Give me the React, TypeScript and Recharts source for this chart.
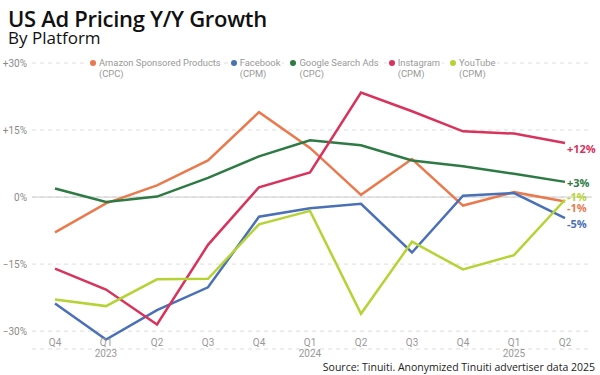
import React from 'react';
import { LineChart, Line, XAxis, YAxis, CartesianGrid, ReferenceLine } from 'recharts';

const quarters = ['Q4', 'Q1', 'Q2', 'Q3', 'Q4', 'Q1', 'Q2', 'Q3', 'Q4', 'Q1', 'Q2'];
const years = ['', '2023', '', '', '', '2024', '', '', '', '2025', ''];

const amazon = [-7.9, -1.4, 2.6, 8.2, 19.0, 11.0, 0.5, 8.5, -1.9, 1.1, -1.0];
const facebook = [-23.8, -31.9, -25.3, -20.2, -4.4, -2.5, -1.5, -12.4, 0.3, 0.9, -4.7];
const google = [1.9, -1.1, 0.1, 4.3, 9.1, 12.7, 11.6, 8.2, 6.9, 5.2, 3.4];
const instagram = [-16.0, -20.7, -28.5, -10.7, 2.2, 5.5, 23.4, 19.2, 14.7, 14.2, 12.1];
const youtube = [-22.9, -24.4, -18.4, -18.3, -6.1, -3.1, -26.1, -10.0, -16.2, -13.0, -0.6];

const yTicks = [-30, -15, 0, 15, 30];

const series = [
  { key: 'amazon', name: 'Amazon Sponsored Products', unit: '(CPC)', color: '#ea7a4e', end: '-1%', dy: 6 },
  { key: 'facebook', name: 'Facebook', unit: '(CPM)', color: '#4a70b6', end: '-5%', dy: 6 },
  { key: 'google', name: 'Google Search Ads', unit: '(CPC)', color: '#2e7a44', end: '+3%', dy: 1 },
  { key: 'instagram', name: 'Instagram', unit: '(CPM)', color: '#d8335c', end: '+12%', dy: 6 },
  { key: 'youtube', name: 'YouTube', unit: '(CPM)', color: '#b6d335', end: '-1%', dy: -3 },
];

const data = quarters.map((q, i) => ({
  idx: i,
  amazon: amazon[i],
  facebook: facebook[i],
  google: google[i],
  instagram: instagram[i],
  youtube: youtube[i],
}));

const fmtY = (v: number) => (v > 0 ? `+${v}%` : v < 0 ? `\u2212${Math.abs(v)}%` : '0%');

const PctTick = (props: any) => {
  const { x, y, payload } = props;
  return (
    <text x={x} y={y} dy={3.5} textAnchor="end" fontSize={10} fill="#8a8a8a" fontFamily="Roboto">
      {fmtY(payload.value)}
    </text>
  );
};

const QuarterTick = (props: any) => {
  const { x, y, payload } = props;
  const i = payload.value;
  return (
    <g>
      <text x={x} y={y} dy={-3} textAnchor="middle" fontSize={10} fill="#999" fontFamily="Roboto">
        {quarters[i]}
      </text>
      {years[i] && (
        <text x={x} y={y} dy={8} textAnchor="middle" fontSize={10} fill="#999" fontFamily="Roboto">
          {years[i]}
        </text>
      )}
    </g>
  );
};

const endLabel = (s: typeof series[number]) => (props: any) => {
  const { x, y, index } = props;
  if (index !== quarters.length - 1) return null;
  return (
    <text x={x + 2} y={y + s.dy} dy={4} fontSize={11} fontWeight={700} fill={s.color} fontFamily="Open Sans">
      {s.end}
    </text>
  );
};

export default function App() {
  return (
    <div style={{ position: 'fixed', left: 0, top: 0, width: 600, height: 375, overflow: 'hidden', background: '#fff', fontFamily: 'Open Sans' }}>
      <div style={{ position: 'absolute', left: 8, top: 7, color: '#111', fontSize: 22, fontWeight: 600, letterSpacing: -0.3, lineHeight: '22px', whiteSpace: 'nowrap' }}>
        US Ad Pricing Y/Y Growth
      </div>
      <div style={{ position: 'absolute', left: 8, top: 29, color: '#111', fontSize: 17, lineHeight: '17px', whiteSpace: 'nowrap' }}>
        By Platform
      </div>
      <LineChart width={600} height={375} data={data} margin={{ top: 63, right: 8, bottom: 6, left: 0 }}>
        <CartesianGrid vertical={false} strokeDasharray="4 4" stroke="#ddd" />
        <ReferenceLine y={0} stroke="#ccc" strokeWidth={1} />
        <XAxis
          dataKey="idx"
          type="category"
          axisLine={false}
          tickLine={false}
          tickSize={0}
          tickMargin={0}
          height={20}
          padding={{ left: 23, right: 27 }}
          interval={0}
          tick={<QuarterTick />}
        />
        <YAxis
          domain={[-34, 30]}
          ticks={yTicks}
          width={32}
          axisLine={false}
          tickLine={false}
          tickSize={0}
          tickMargin={5}
          tick={<PctTick />}
        />
        {series.map((s) => (
          <Line
            key={s.key}
            dataKey={s.key}
            stroke={s.color}
            strokeWidth={2.5}
            dot={false}
            type="linear"
            isAnimationActive={false}
            label={endLabel(s)}
          />
        ))}
      </LineChart>
      <div style={{ position: 'absolute', left: 88, top: 57, display: 'flex', gap: 6, fontFamily: 'Roboto', fontSize: 9.4, color: '#999', lineHeight: '11px' }}>
        {series.map((s) => (
          <div key={s.key} style={{ display: 'flex', background: '#fff', padding: '0 2px' }}>
            <span style={{ width: 6, height: 6, borderRadius: 3, background: s.color, marginTop: 3, marginRight: 3, flexShrink: 0 }} />
            <div>
              <div>{s.name}</div>
              <div>{s.unit}</div>
            </div>
          </div>
        ))}
      </div>
      <div style={{ position: 'absolute', right: 5, top: 361, fontSize: 10.5, lineHeight: '12px', color: '#222', whiteSpace: 'nowrap' }}>
        Source: Tinuiti. Anonymized Tinuiti advertiser data 2025
      </div>
    </div>
  );
}
